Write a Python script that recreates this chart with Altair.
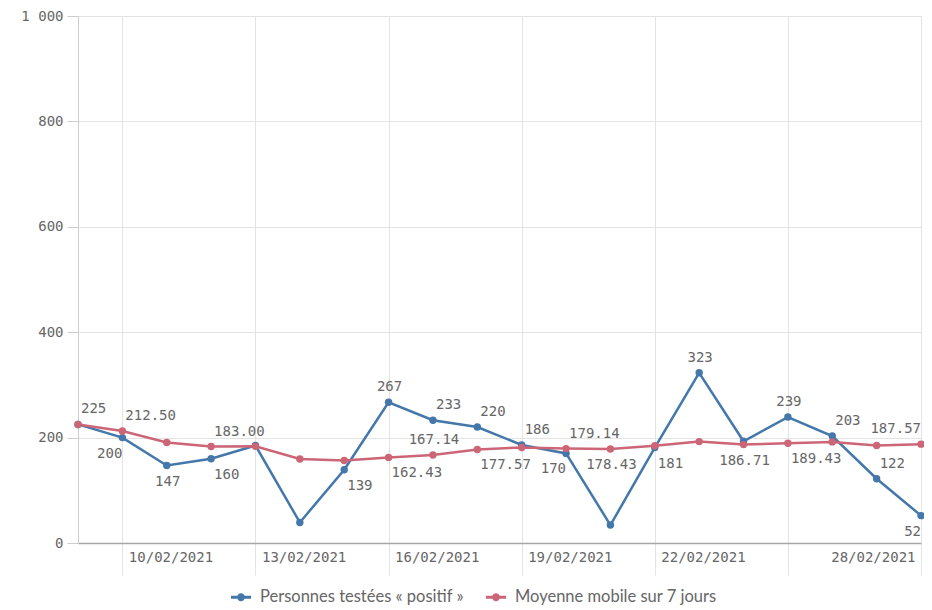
import altair as alt
import pandas as pd

dates = pd.date_range("2021-02-09", "2021-02-28", freq="D").strftime("%Y-%m-%d").tolist()

positifs = [225, 200, 147, 160, 185, 39, 139, 267, 233, 220,
            186, 170, 34, 181, 323, 193, 239, 203, 122, 52]
moyenne = [225.00, 212.50, 190.67, 183.00, 183.40, 159.33, 156.43, 162.43, 167.14, 177.57,
           181.29, 179.14, 178.43, 184.43, 192.43, 186.71, 189.43, 191.86, 185.00, 187.57]

s_pos = "Personnes testées « positif »"
s_moy = "Moyenne mobile sur 7 jours"
series_names = [s_pos, s_moy]
series_colors = ["#4477aa", "#cc6677"]

# which point labels are displayed, and where (u=up, d=down, r=right, l=left)
pos_labels = {0: "ur", 1: "dl", 2: "d", 3: "dr", 6: "dr", 7: "u", 8: "ur", 9: "ur", 10: "ur",
              11: "dl", 13: "dr", 14: "u", 16: "u", 17: "ur", 18: "ur", 19: "dl"}
moy_labels = {1: "ur", 3: "ur", 7: "dr", 8: "u", 9: "dr", 11: "ur", 12: "d", 15: "d",
              16: "dr", 19: "ul"}

rows = []
for i, d in enumerate(dates):
    rows.append({"date": d, "serie": s_pos, "value": positifs[i]})
    rows.append({"date": d, "serie": s_moy, "value": moyenne[i]})
df = pd.DataFrame(rows)

lab_rows = []
for i, p in pos_labels.items():
    lab_rows.append({"date": dates[i], "value": positifs[i], "txt": f"{positifs[i]}", "pos": p})
for i, p in moy_labels.items():
    lab_rows.append({"date": dates[i], "value": moyenne[i], "txt": f"{moyenne[i]:.2f}", "pos": p})
labdf = pd.DataFrame(lab_rows)

tick_dates = ["2021-02-10", "2021-02-13", "2021-02-16", "2021-02-19",
              "2021-02-22", "2021-02-25", "2021-02-28"]
tick_vals = [alt.DateTime(year=2021, month=2, date=int(t[-2:]), utc=True) for t in tick_dates]

MONO = "DejaVu Sans Mono"
GREY = "#666666"

x = alt.X("date:T",
          scale=alt.Scale(type="utc", domain=[alt.DateTime(year=2021, month=2, date=9, utc=True),
                                              alt.DateTime(year=2021, month=2, date=28, utc=True)],
                          nice=False, padding=0),
          axis=alt.Axis(title=None, values=tick_vals,
                        labelExpr="utcdate(datum.value) == 25 ? '' : utcFormat(datum.value, '%d/%m/%Y')",
                        labelAlign={"condition": {"test": "utcdate(datum.value) == 28", "value": "right"}, "value": "left"},
                        labelOffset={"condition": {"test": "utcdate(datum.value) == 28", "value": -6}, "value": 6},
                        labelBaseline="middle",
                        labelFont=MONO, labelFontSize=14, labelColor=GREY,
                        tickSize=32, tickColor="#e3e3e3", tickWidth=1,
                        labelPadding=-18,
                        grid=True, gridColor="#e3e3e3",
                        domainColor="#a6a6a6", domainWidth=1.5,
                        labelFlush=False, labelOverlap=False))
y = alt.Y("value:Q",
          scale=alt.Scale(domain=[0, 1000], nice=False),
          axis=alt.Axis(title=None, values=[0, 200, 400, 600, 800, 1000],
                        labelExpr="replace(format(datum.value, ','), ',', ' ')",
                        labelFont=MONO, labelFontSize=14, labelColor=GREY,
                        tickSize=11, tickColor="#cccccc", labelPadding=4,
                        grid=True, gridColor="#e3e3e3",
                        domainColor="#cccccc"))

legend_symbol = ("M-1,-0.15H-0.38V0.15H-1Z M0.38,-0.15H1V0.15H0.38Z "
                 "M0,-0.4A0.4,0.4,0,1,1,0,0.4A0.4,0.4,0,1,1,0,-0.4Z")

color = alt.Color("serie:N",
                  scale=alt.Scale(domain=series_names, range=series_colors),
                  legend=alt.Legend(title=None, orient="none", direction="horizontal",
                                    legendX=153, legendY=571,
                                    symbolType=legend_symbol, symbolSize=400,
                                    symbolStrokeWidth=0, symbolOpacity=1,
                                    labelFont="Lato", labelFontSize=16.5, labelColor=GREY,
                                    labelLimit=0,
                                    columnPadding=22, labelOffset=9))

base = alt.Chart(df)
lines = base.mark_line(strokeWidth=2.5).encode(x=x, y=y, color=color,
                                               order=alt.Order("date:T"))
points = base.mark_point(filled=True, size=55, opacity=1).encode(x=x, y=y, color=color)

offsets = {
    "ur": ("left", 3, -15),
    "dr": ("left", 3, 16),
    "ul": ("right", 0, -15),
    "dl": ("right", 0, 16),
    "u": ("center", 1, -15),
    "d": ("center", 1, 16),
}
label_layers = []
for p, (al, dx, dy) in offsets.items():
    label_layers.append(
        alt.Chart(labdf).transform_filter(alt.datum.pos == p)
        .mark_text(align=al, dx=dx, dy=dy, baseline="middle", font=MONO, fontSize=14, color=GREY)
        .encode(x=alt.X("date:T"), y=alt.Y("value:Q"), text="txt:N")
    )

chart = alt.layer(lines, points, *label_layers).properties(
    width=843, height=527,
    autosize=alt.AutoSizeParams(type="none"),
    padding={"left": 70, "top": 8, "right": 3, "bottom": 63},
).configure_view(stroke=None).configure(background="white")

chart.save("out.html", embed_options={"renderer": "svg", "actions": False})
